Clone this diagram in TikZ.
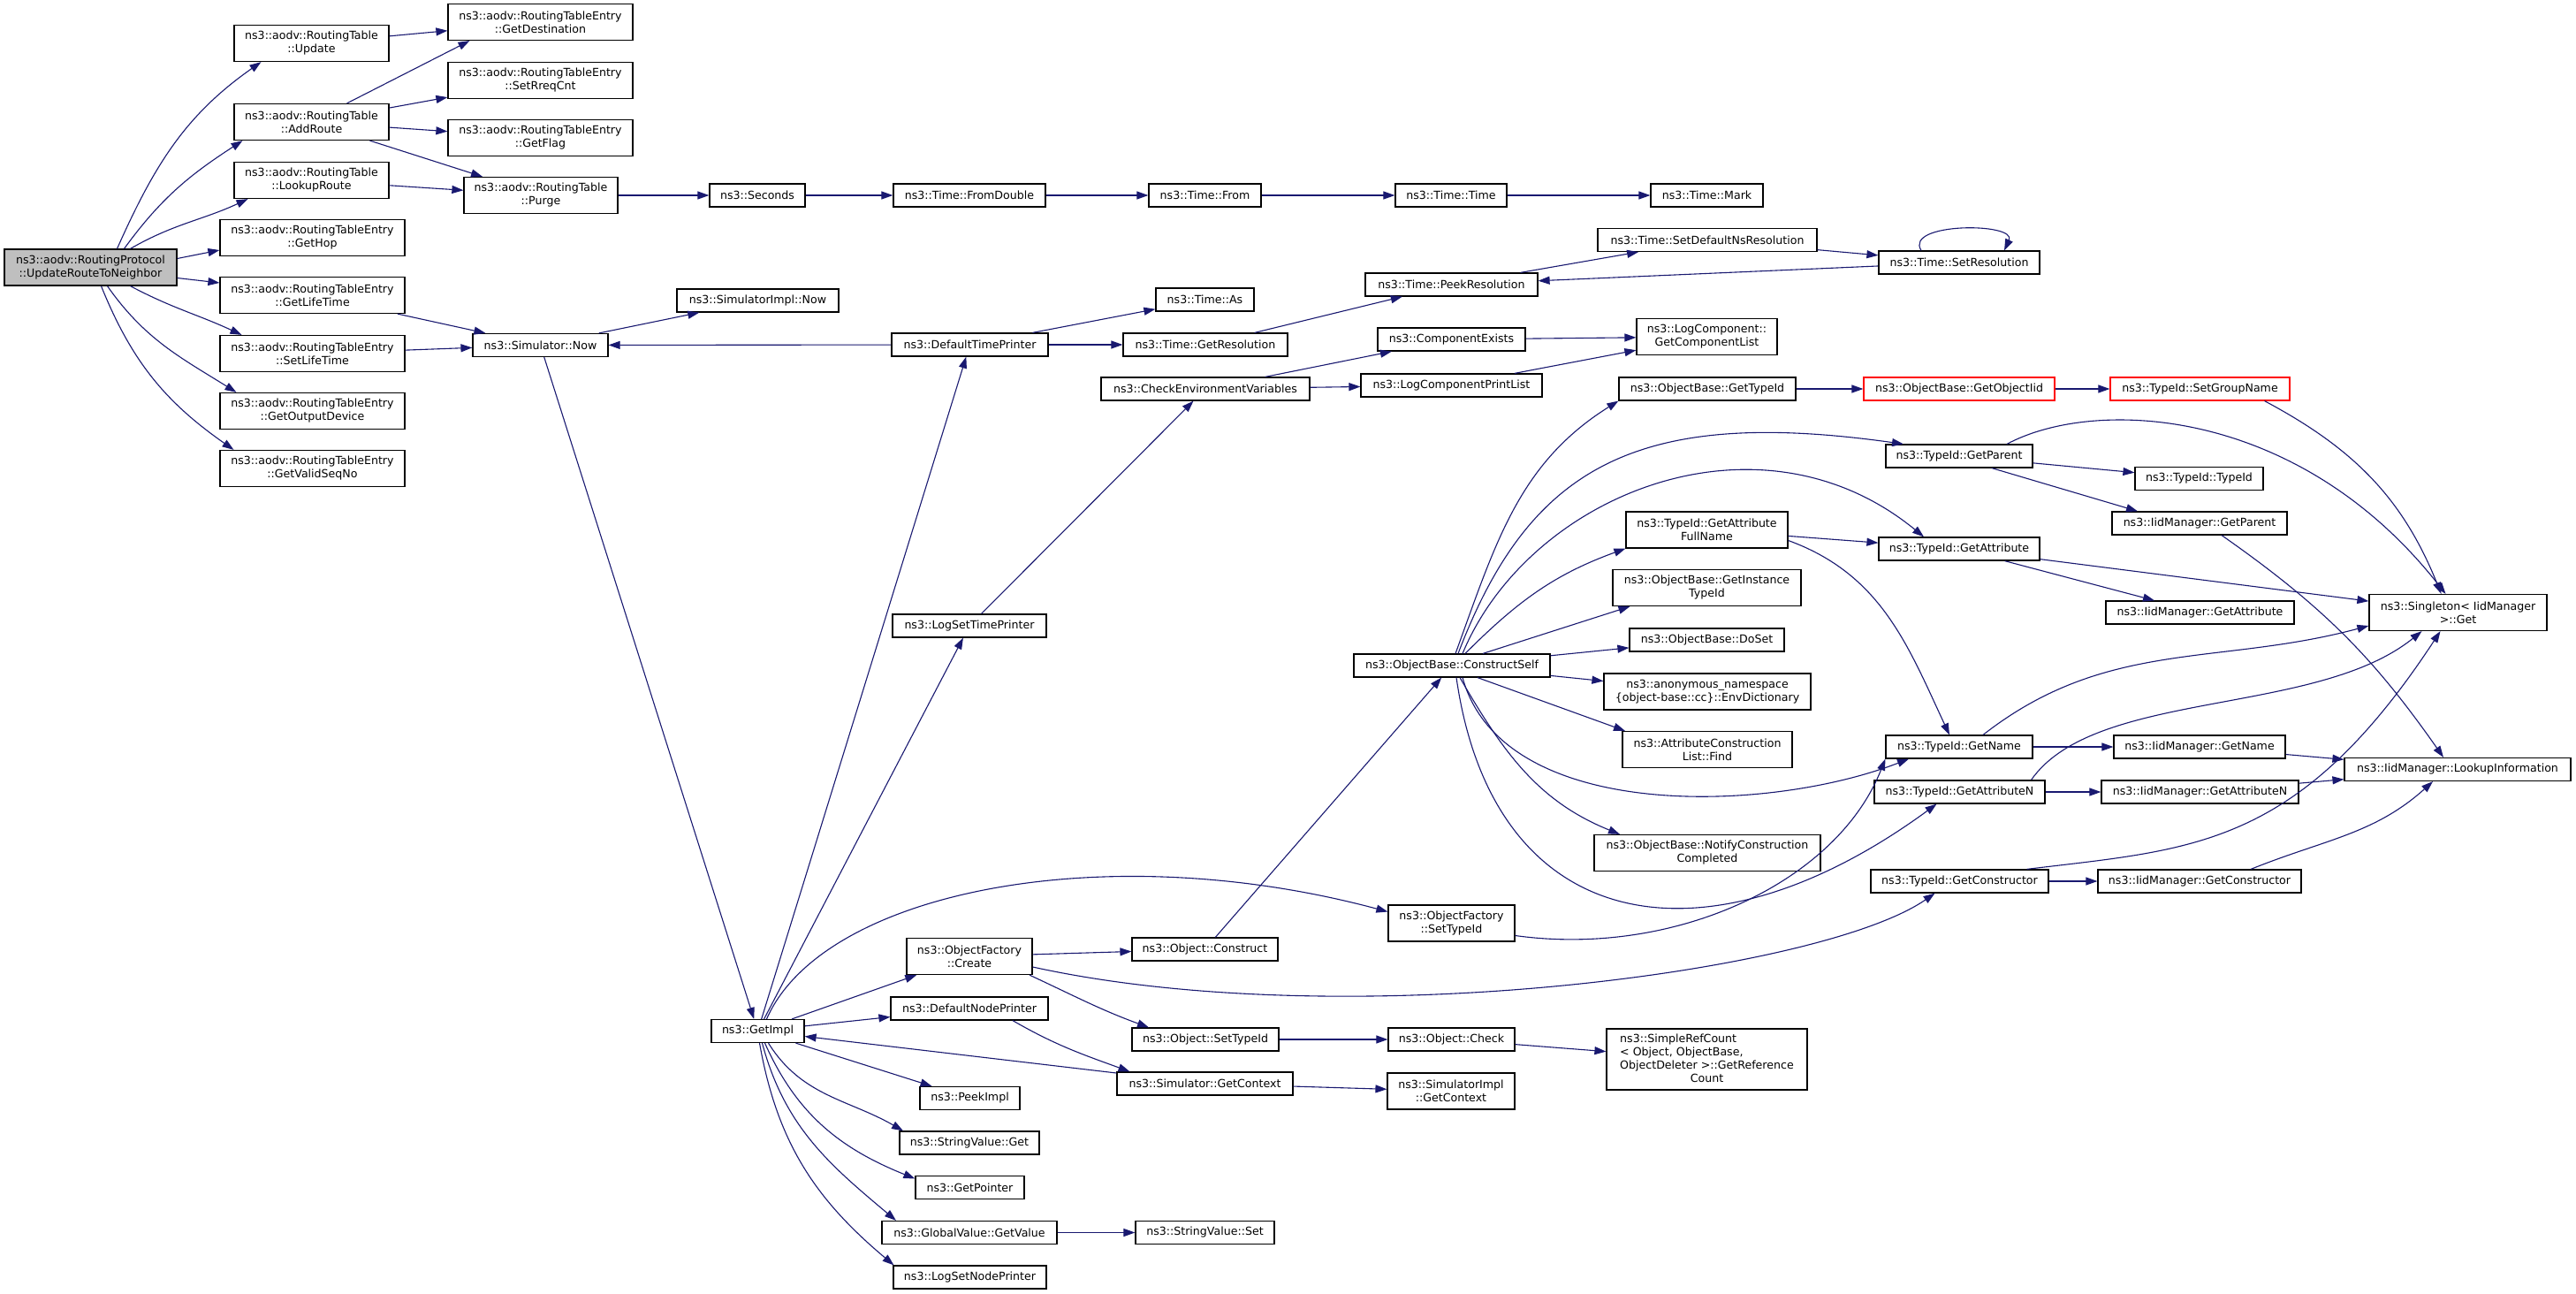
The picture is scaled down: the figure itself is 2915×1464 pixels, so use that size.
\documentclass[tikz,border=0pt]{standalone}
\usepackage{fontspec}
\setmainfont{DejaVu Sans}
\usetikzlibrary{arrows.meta}
\definecolor{edgeblue}{RGB}{25,25,112}
\definecolor{hubgray}{RGB}{191,191,191}
\tikzset{
  fn/.style={draw=black,line width=1.2pt,fill=white,inner sep=0pt,minimum height=26pt,align=center,font=\fontsize{12.6}{15}\selectfont},
  fn2/.style={fn,minimum height=41pt},
  nodoc/.style={draw=red},
  call/.style={draw=edgeblue,line width=1.1pt,-{Triangle[length=13pt,width=9pt]}}
}
\begin{document}
\begin{tikzpicture}[x=1pt,y=1pt]
\useasboundingbox (0,0) rectangle (2915,-1464);
%(x,-y) in pixels of the graph

\node[fn2,fill=hubgray,minimum width=195pt] (root) at (102.5,-302.5) {ns3::aodv::RoutingProtocol\\::UpdateRouteToNeighbor};
\node[fn2,minimum width=175pt] (upd) at (352.5,-49) {ns3::aodv::RoutingTable\\::Update};
\node[fn2,minimum width=175pt] (addr) at (352.5,-138) {ns3::aodv::RoutingTable\\::AddRoute};
\node[fn2,minimum width=175pt] (lookup) at (352.5,-204) {ns3::aodv::RoutingTable\\::LookupRoute};
\node[fn2,minimum width=209pt] (gethop) at (353.5,-269) {ns3::aodv::RoutingTableEntry\\::GetHop};
\node[fn2,minimum width=209pt] (getlife) at (353.5,-334) {ns3::aodv::RoutingTableEntry\\::GetLifeTime};
\node[fn2,minimum width=209pt] (setlife) at (353.5,-400) {ns3::aodv::RoutingTableEntry\\::SetLifeTime};
\node[fn2,minimum width=209pt] (getout) at (353.5,-465) {ns3::aodv::RoutingTableEntry\\::GetOutputDevice};
\node[fn2,minimum width=209pt] (getvalid) at (353.5,-530) {ns3::aodv::RoutingTableEntry\\::GetValidSeqNo};
\node[fn2,minimum width=209pt] (getdest) at (611.5,-25) {ns3::aodv::RoutingTableEntry\\::GetDestination};
\node[fn2,minimum width=209pt] (setrreq) at (611.5,-91) {ns3::aodv::RoutingTableEntry\\::SetRreqCnt};
\node[fn2,minimum width=209pt] (getflag) at (611.5,-156) {ns3::aodv::RoutingTableEntry\\::GetFlag};
\node[fn2,minimum width=174pt] (purge) at (612,-221) {ns3::aodv::RoutingTable\\::Purge};
\node[fn,minimum width=153pt] (simnow) at (611.5,-390.5) {ns3::Simulator::Now};

\node[fn,minimum width=108pt] (seconds) at (857,-221) {ns3::Seconds};
\node[fn,minimum width=172pt] (fromdbl) at (1097,-221) {ns3::Time::FromDouble};
\node[fn,minimum width=127pt] (from) at (1363.5,-221) {ns3::Time::From};
\node[fn,minimum width=126pt] (timetime) at (1642,-221) {ns3::Time::Time};
\node[fn,minimum width=127pt] (mark) at (1931.5,-221) {ns3::Time::Mark};
\node[fn,minimum width=183pt] (implnow) at (857.5,-340) {ns3::SimulatorImpl::Now};
\node[fn,minimum width=177pt] (dtp) at (1097.5,-390) {ns3::DefaultTimePrinter};
\node[fn,minimum width=111pt] (timeas) at (1363.5,-339) {ns3::Time::As};
\node[fn,minimum width=186pt] (getres) at (1364,-390) {ns3::Time::GetResolution};
\node[fn,minimum width=236pt] (checkenv) at (1364,-440) {ns3::CheckEnvironmentVariables};
\node[fn,minimum width=195pt] (peekres) at (1642.5,-322) {ns3::Time::PeekResolution};
\node[fn,minimum width=248pt] (setdefns) at (1932,-271.5) {ns3::Time::SetDefaultNsResolution};
\node[fn,minimum width=182pt] (setres) at (2217,-297) {ns3::Time::SetResolution};
\node[fn,minimum width=167pt] (compexists) at (1642.5,-384) {ns3::ComponentExists};
\node[fn,minimum width=205pt] (logprint) at (1642.5,-436) {ns3::LogComponentPrintList};
\node[fn2,minimum width=159pt] (complist) at (1931.5,-381) {ns3::LogComponent::\\GetComponentList};
\node[fn,minimum width=174pt] (logtime) at (1097,-708) {ns3::LogSetTimePrinter};

\node[fn,minimum width=200pt] (obtypeid) at (1932,-440) {ns3::ObjectBase::GetTypeId};
\node[fn,nodoc,minimum width=216pt] (objiid) at (2217,-440) {ns3::ObjectBase::GetObjectIid};
\node[fn,nodoc,minimum width=203pt] (groupname) at (2489.5,-440) {ns3::TypeId::SetGroupName};
\node[fn,minimum width=166pt] (getparent) at (2217,-516) {ns3::TypeId::GetParent};
\node[fn,minimum width=145pt] (tidtid) at (2488.5,-541.5) {ns3::TypeId::TypeId};
\node[fn,minimum width=198pt] (iidparent) at (2489,-592) {ns3::IidManager::GetParent};
\node[fn,minimum width=182pt] (getattr) at (2217,-621) {ns3::TypeId::GetAttribute};
\node[fn,minimum width=213pt] (iidattr) at (2489.5,-693) {ns3::IidManager::GetAttribute};
\node[fn2,minimum width=201pt] (singleton) at (2781.5,-693) {ns3::Singleton< IidManager\\ >::Get};
\node[fn,minimum width=166pt] (getname) at (2217,-845) {ns3::TypeId::GetName};
\node[fn,minimum width=194pt] (iidname) at (2489,-845) {ns3::IidManager::GetName};
\node[fn,minimum width=256pt] (lookupinfo) at (2781,-870.5) {ns3::IidManager::LookupInformation};
\node[fn,minimum width=193pt] (getattrn) at (2217.5,-896) {ns3::TypeId::GetAttributeN};
\node[fn,minimum width=223pt] (iidattrn) at (2489.5,-896) {ns3::IidManager::GetAttributeN};
\node[fn,minimum width=201pt] (getctor) at (2217.5,-997) {ns3::TypeId::GetConstructor};
\node[fn,minimum width=230pt] (iidctor) at (2489,-997) {ns3::IidManager::GetConstructor};

\node[fn,minimum width=222pt] (cself) at (1643,-753) {ns3::ObjectBase::ConstructSelf};
\node[fn2,minimum width=183pt] (fullname) at (1931.5,-599.5) {ns3::TypeId::GetAttribute\\FullName};
\node[fn2,minimum width=213pt] (insttid) at (1931.5,-665) {ns3::ObjectBase::GetInstance\\TypeId};
\node[fn,minimum width=175pt] (doset) at (1931.5,-724) {ns3::ObjectBase::DoSet};
\node[fn2,minimum width=234pt] (envdict) at (1932,-782.5) {ns3::anonymous\_namespace\\\{object-base::cc\}::EnvDictionary};
\node[fn2,minimum width=192pt] (attrfind) at (1932,-848) {ns3::AttributeConstruction\\List::Find};
\node[fn2,minimum width=256pt] (notify) at (1932,-965) {ns3::ObjectBase::NotifyConstruction\\Completed};

\node[fn,minimum width=105pt] (getimpl) at (857.5,-1166.5) {ns3::GetImpl};
\node[fn2,minimum width=142pt] (ofcreate) at (1097,-1082) {ns3::ObjectFactory\\::Create};
\node[fn,minimum width=178pt] (nodeprinter) at (1097,-1141) {ns3::DefaultNodePrinter};
\node[fn,minimum width=113pt] (peekimpl) at (1097.5,-1242.5) {ns3::PeekImpl};
\node[fn,minimum width=158pt] (svget) at (1097,-1293) {ns3::StringValue::Get};
\node[fn,minimum width=123pt] (getptr) at (1097.5,-1343.5) {ns3::GetPointer};
\node[fn,minimum width=198pt] (gvget) at (1097,-1394.5) {ns3::GlobalValue::GetValue};
\node[fn,minimum width=173pt] (lognode) at (1097.5,-1445) {ns3::LogSetNodePrinter};
\node[fn,minimum width=157pt] (svset) at (1363.5,-1394.5) {ns3::StringValue::Set};
\node[fn,minimum width=165pt] (objconstruct) at (1363.5,-1074) {ns3::Object::Construct};
\node[fn,minimum width=166pt] (objsettid) at (1364,-1176) {ns3::Object::SetTypeId};
\node[fn,minimum width=199pt] (simctx) at (1363.5,-1226) {ns3::Simulator::GetContext};
\node[fn2,minimum width=143pt] (ofsettid) at (1642.5,-1044.5) {ns3::ObjectFactory\\::SetTypeId};
\node[fn,minimum width=143pt] (objcheck) at (1642.5,-1176) {ns3::Object::Check};
\node[fn2,minimum width=144pt] (implctx) at (1642,-1234.5) {ns3::SimulatorImpl\\::GetContext};
\node[fn,minimum width=227pt,minimum height=69pt] (refcount) at (1931.5,-1198.5) {\begin{tabular}{@{}l@{}}ns3::SimpleRefCount\\< Object, ObjectBase,\\ObjectDeleter >::GetReference\\\multicolumn{1}{@{}c@{}}{Count}\end{tabular}};

% aodv part
\draw[call] ([xshift=30pt]root.north) to[out=66,in=215] ([xshift=-57pt]upd.south);
\draw[call] ([xshift=38pt]root.north) to[out=54,in=213] ([xshift=-78pt]addr.south);
\draw[call] ([xshift=45pt]root.north) to[out=30,in=205] ([xshift=-72pt]lookup.south);
\draw[call] ([yshift=10pt]root.east) -- ([yshift=-14pt]gethop.west);
\draw[call] ([yshift=-12pt]root.east) -- ([yshift=14pt]getlife.west);
\draw[call] ([xshift=45pt]root.south) to[out=-28,in=155] ([xshift=-80pt]setlife.north);
\draw[call] ([xshift=19pt]root.south) to[out=-55,in=148] ([xshift=-86pt]getout.north);
\draw[call] ([xshift=12pt]root.south) to[out=-68,in=145] ([xshift=-89pt]getvalid.north);
\draw[call] (upd) -- (getdest);
\draw[call] ([xshift=40pt]addr.north) -- ([xshift=-80pt]getdest.south);
\draw[call] (addr) -- (setrreq);
\draw[call] (addr) -- (getflag);
\draw[call] (addr) -- (purge);
\draw[call] (lookup) -- (purge);
\draw[call] (getlife) -- (simnow);
\draw[call] (setlife) -- (simnow);

% time
\draw[call] (purge) -- (seconds);
\draw[call] (seconds) -- (fromdbl);
\draw[call] (fromdbl) -- (from);
\draw[call] (from) -- (timetime);
\draw[call] (timetime) -- (mark);
\draw[call] (simnow) -- (implnow);
\draw[call] (simnow) -- (getimpl);
\draw[call] (dtp) -- (simnow);
\draw[call] (dtp) -- (timeas);
\draw[call] (dtp) -- (getres);
\draw[call] (getres) -- (peekres);
\draw[call] (peekres) -- (setdefns);
\draw[call] (setdefns) -- (setres);
\draw[call] (setres) -- (peekres);
\draw[call] ([xshift=-43pt]setres.north) .. controls +(-20,32) and +(15,32) .. ([xshift=51pt]setres.north);
\draw[call] (checkenv) -- (compexists);
\draw[call] (checkenv) -- (logprint);
\draw[call] (compexists) -- (complist);
\draw[call] (logprint) -- (complist);

% GetImpl
\draw[call] (getimpl) -- (dtp);
\draw[call] (getimpl) -- (logtime);
\draw[call] (logtime) -- (checkenv);
\draw[call] ([xshift=10pt]getimpl.north) .. controls +(63,144) and +(-321,86) .. ([yshift=13pt]ofsettid.west);
\draw[call] (getimpl) -- (ofcreate);
\draw[call] (getimpl) -- (nodeprinter);
\draw[call] (getimpl) -- (peekimpl);
\draw[call] ([xshift=12pt]getimpl.south) to[out=-58,in=150] ([xshift=-75pt]svget.north);
\draw[call] ([xshift=8pt]getimpl.south) to[out=-66,in=158] ([yshift=10pt]getptr.west);
\draw[call] ([xshift=5pt]getimpl.south) to[out=-75,in=140] ([xshift=-83pt]gvget.north);
\draw[call] ([xshift=2pt]getimpl.south) to[out=-80,in=140] ([xshift=-86pt]lognode.north);
\draw[call] (gvget) -- (svset);
\draw[call] (ofcreate) -- (objconstruct);
\draw[call] ([xshift=68pt]ofcreate.south) to[out=-25,in=160] ([xshift=-64pt]objsettid.north);
\draw[call] ([yshift=-12pt]ofcreate.east) .. controls +(350,-77) and +(-130,-90) .. ([xshift=-28pt]getctor.south);
\draw[call] ([xshift=49pt]nodeprinter.south) to[out=-30,in=160] ([xshift=-85pt]simctx.north);
\draw[call] ([yshift=12pt]simctx.west) -- ([yshift=-6pt]getimpl.east);
\draw[call] (simctx) -- (implctx);
\draw[call] (objsettid) -- (objcheck);
\draw[call] (objcheck) -- (refcount);
\draw[call] (objconstruct) -- (cself);
\draw[call] ([yshift=-14pt]ofsettid.east) .. controls +(180,-25) and +(-55,-140) .. (getname.south west);

% ConstructSelf
\draw[call] ([xshift=4pt]cself.north) to[out=70,in=212] (obtypeid.south west);
\draw[call] ([xshift=7pt]cself.north) .. controls +(80,210) and +(-304,43) .. ([xshift=-63pt]getparent.north);
\draw[call] ([xshift=12pt]cself.north) .. controls +(75,180) and +(-187,153) .. ([xshift=-40pt]getattr.north);
\draw[call] ([xshift=15pt]cself.north) to[out=45,in=200] (fullname.south west);
\draw[call] ([xshift=35pt]cself.north) -- ([xshift=-87pt]insttid.south);
\draw[call] (cself) -- (doset);
\draw[call] (cself) -- (envdict);
\draw[call] ([xshift=29pt]cself.south) -- ([xshift=-93pt]attrfind.north);
\draw[call] ([xshift=12pt]cself.south) .. controls +(45,-164) and +(-160,-62) .. ([xshift=-57pt]getname.south);
\draw[call] ([xshift=9pt]cself.south) to[out=-60,in=158] ([xshift=-99pt]notify.north);
\draw[call] ([xshift=5pt]cself.south) .. controls +(42,-293) and +(-261,-191) .. ([xshift=-26pt]getattrn.south);

% TypeId and IidManager
\draw[call] (obtypeid) -- (objiid);
\draw[call] (objiid) -- (groupname);
\draw[call] ([xshift=73pt]groupname.south) to[out=-28,in=112] ([xshift=-19pt]singleton.north);
\draw[call] ([xshift=54pt]getparent.north) .. controls +(99,53) and +(-167,213) .. ([xshift=-14pt]singleton.north);
\draw[call] (getparent) -- (tidtid);
\draw[call] ([xshift=37pt]getparent.south) -- ([xshift=-70pt]iidparent.north);
\draw[call] ([xshift=25pt]iidparent.south) to[out=-35,in=125] ([xshift=-16pt]lookupinfo.north);
\draw[call] (getattr) -- (singleton);
\draw[call] (getattr) -- (iidattr);
\draw[call] (fullname) -- (getattr);
\draw[call] ([yshift=-12pt]fullname.east) to[out=-20,in=115] ([xshift=-11pt]getname.north);
\draw[call] ([xshift=27pt]getname.north) to[out=38,in=195] ([yshift=-15pt]singleton.west);
\draw[call] (getname) -- (iidname);
\draw[call] (iidname) -- (lookupinfo);
\draw[call] ([xshift=81pt]getattrn.north) .. controls +(72,103) and +(-120,-97) .. ([xshift=-41pt]singleton.south);
\draw[call] (getattrn) -- (iidattrn);
\draw[call] (iidattrn) -- (lookupinfo);
\draw[call] ([xshift=76pt]getctor.north) .. controls +(187,23) and +(-162,-247) .. ([xshift=-20pt]singleton.south);
\draw[call] (getctor) -- (iidctor);
\draw[call] ([xshift=58pt]iidctor.north) to[out=22,in=222] ([xshift=-28pt]lookupinfo.south);
\end{tikzpicture}
\end{document}
